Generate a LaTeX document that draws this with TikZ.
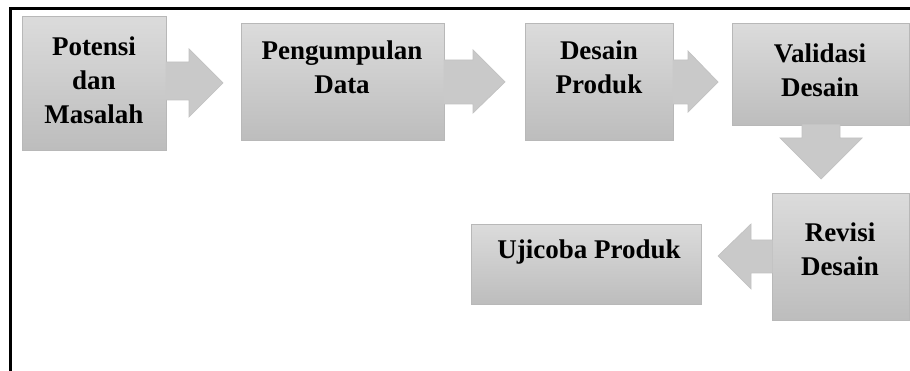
\documentclass[tikz,border=0pt]{standalone}
\usepackage{fontspec}
\setmainfont{Liberation Serif}
\begin{document}
\begin{tikzpicture}[x=1pt,y=-1pt,
  box/.style={draw=black!28, line width=0.8pt, top color=black!14, bottom color=black!26, inner sep=0pt, anchor=north west},
  blkfill/.style={fill=black!21},
  blkline/.style={draw=black!24, line width=0.7pt, line join=miter},
  lbl/.style={font=\bfseries\fontsize{27}{34}\selectfont, align=center, text=black, inner sep=0pt}]
\useasboundingbox (0,0) rectangle (910,371);
% frame
\draw[line width=3pt] (10.5,372) -- (10.5,8.5) -- (912,8.5);
% boxes
\node[box, minimum width=144pt, minimum height=134pt] (b1) at (22,16) {};
\node[box, minimum width=203pt, minimum height=117pt] (b2) at (241,23) {};
\node[box, minimum width=148pt, minimum height=117pt] (b3) at (525,23) {};
\node[box, minimum width=177pt, minimum height=102pt] (b4) at (732,23) {};
\node[box, minimum width=137pt, minimum height=127pt] (b5) at (772,193) {};
\node[box, minimum width=230pt, minimum height=80pt] (b6) at (471,224) {};
% block arrows
\fill[blkfill] (165.5,62) -- (189,62) -- (189,49) -- (223,83) -- (189,117) -- (189,100) -- (165.5,100) -- cycle;
\draw[blkline] (166,62) -- (189,62) -- (189,49) -- (223,83) -- (189,117) -- (189,100) -- (166,100);
\fill[blkfill] (443.5,60) -- (473,60) -- (473,50) -- (505,82) -- (473,113) -- (473,104) -- (443.5,104) -- cycle;
\draw[blkline] (444,60) -- (473,60) -- (473,50) -- (505,82) -- (473,113) -- (473,104) -- (444,104);
\fill[blkfill] (672.5,60) -- (688,60) -- (688,51) -- (718,82) -- (688,112) -- (688,104) -- (672.5,104) -- cycle;
\draw[blkline] (673,60) -- (688,60) -- (688,51) -- (718,82) -- (688,112) -- (688,104) -- (673,104);
\fill[blkfill] (802,124.5) -- (802,138) -- (780,138) -- (821,179) -- (862,138) -- (840,138) -- (840,124.5) -- cycle;
\draw[blkline] (802,125) -- (802,138) -- (780,138) -- (821,179) -- (862,138) -- (840,138) -- (840,125);
\fill[blkfill] (772.5,240) -- (751,240) -- (751,224) -- (718,256) -- (751,289) -- (751,273) -- (772.5,273) -- cycle;
\draw[blkline] (772,240) -- (751,240) -- (751,224) -- (718,256) -- (751,289) -- (751,273) -- (772,273);
% labels
\node[lbl] (t1) at (94,80) {Potensi\\dan\\Masalah};
\node[lbl] (t2) at (342,67) {Pengumpulan\\Data};
\node[lbl] (t3) at (599,67) {Desain\\Produk};
\node[lbl] (t4) at (820,70) {Validasi\\Desain};
\node[lbl] (t5) at (840,249) {Revisi\\Desain};
\node[lbl] (t6) at (589,252) {Ujicoba Produk};
\end{tikzpicture}
\end{document}
